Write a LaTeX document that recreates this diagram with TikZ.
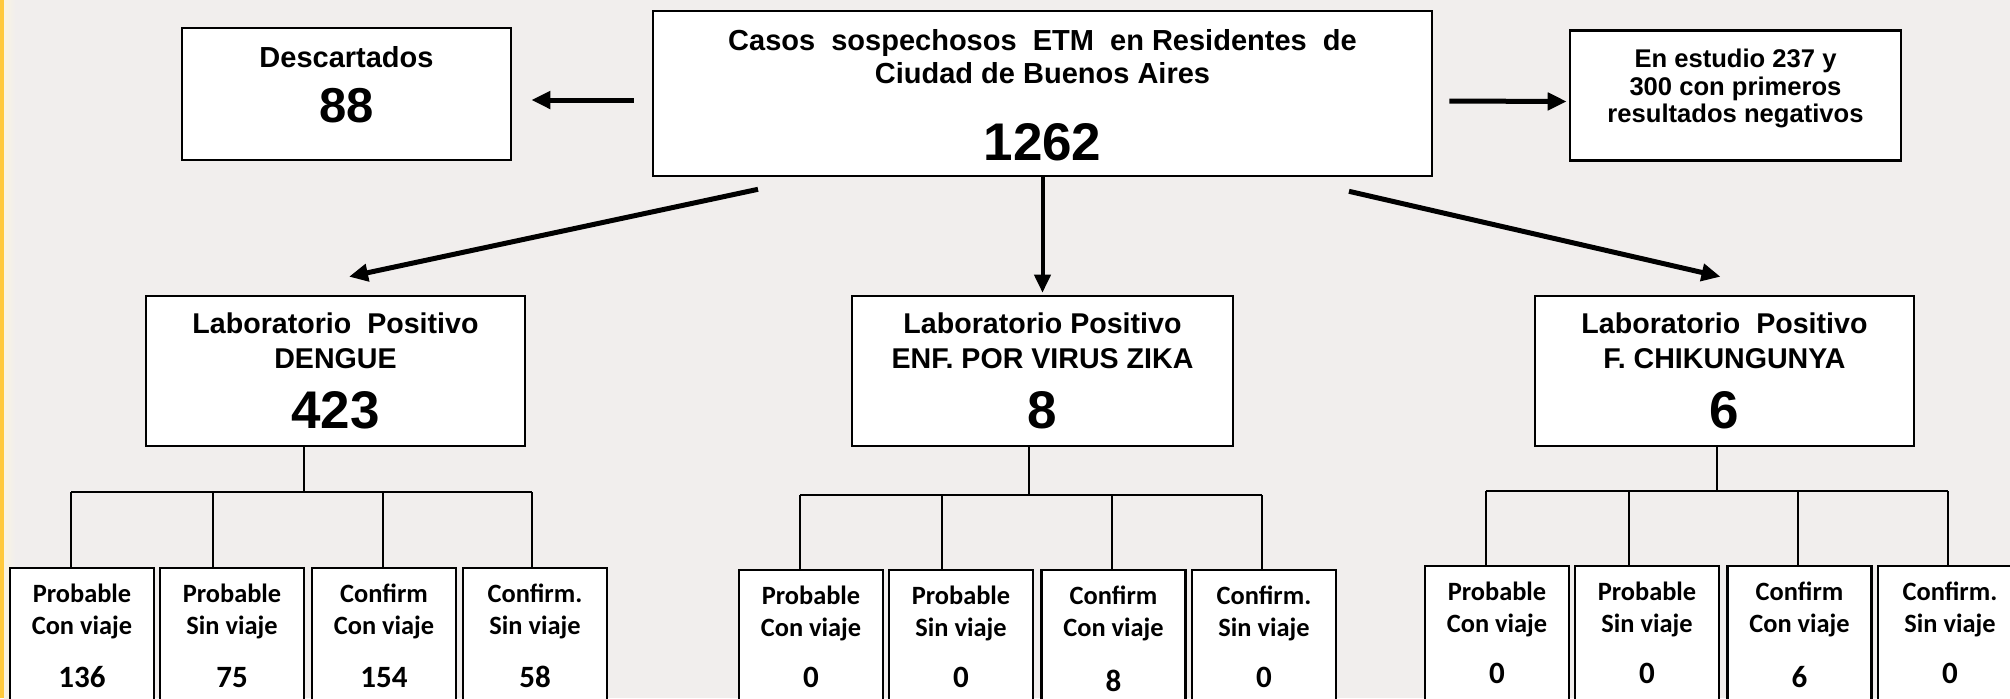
\documentclass[tikz,border=0pt]{standalone}
\usepackage{fontspec}
\setmainfont{Liberation Sans}
\newfontfamily\calib{Carlito}
\usetikzlibrary{arrows.meta,calc}
\definecolor{bg}{RGB}{241,238,237}
\definecolor{ystrip}{RGB}{255,201,60}
\definecolor{ylight}{RGB}{250,244,225}
\newcommand\mkcell[7]{%
  \node[sbx] (#1) at (#2,#3) {};
  \node[st] at ($(#1.north)+(0,35)$) {#4};
  \node[st] at ($(#1.north)+(0,67)$) {#5};
  \node[sn] at ($(#1.north)+(0,#7)$) {#6};
}
\begin{document}
\begin{tikzpicture}[x=0.5pt,y=-0.5pt,
  bx/.style={draw=black, line width=1.3pt, fill=white, inner sep=0pt},
  sbx/.style={draw=black, line width=1.2pt, fill=white, inner sep=0pt,
    minimum width=144*0.5pt, minimum height=180*0.5pt, anchor=north},
  arr/.style={line width=2.5pt, -{Triangle[length=9.5pt,width=8.5pt]}},
  arrv/.style={line width=2pt, -{Triangle[length=9pt,width=8pt]}},
  tree/.style={line width=1pt},
  hd/.style={font=\bfseries\fontsize{14.5}{17}\selectfont, inner sep=0pt, anchor=base},
  hd2/.style={font=\bfseries\fontsize{14.3}{17}\selectfont, inner sep=0pt, anchor=base},
  hdb/.style={font=\bfseries\fontsize{26.5}{30}\selectfont, inner sep=0pt, anchor=base},
  es/.style={font=\bfseries\fontsize{12.8}{15}\selectfont, inner sep=0pt, anchor=base},
  st/.style={font=\calib\bfseries\fontsize{13.2}{15}\selectfont, inner sep=0pt, anchor=base},
  sn/.style={font=\calib\bfseries\fontsize{15.5}{18}\selectfont, inner sep=0pt, anchor=base},
]
\useasboundingbox (0,0) rectangle (2010,698);
\clip (0,0) rectangle (2010,698);
\fill[bg] (0,0) rectangle (2010,698);
\fill[ystrip] (0,0) rectangle (4,698);
\shade[left color=ylight, right color=bg] (4,0) rectangle (15,698);

% top level
\node[bx, minimum width=779*0.5pt, minimum height=165*0.5pt] (main) at (1042.5,93.5) {};
\node[hd] at (1042.5,50) {Casos\ \ sospechosos\ \ ETM\ \ en Residentes\ \ de};
\node[hd] at (1042.5,83) {Ciudad de Buenos Aires};
\node[hdb] at (1042.5,160) {1262};

\node[bx, minimum width=329*0.5pt, minimum height=132*0.5pt] (desc) at (346.5,94) {};
\node[hd] at (346.5,67) {Descartados};
\node[font=\bfseries\fontsize{24.5}{28}\selectfont, inner sep=0pt, anchor=base] at (346.5,122) {88};

\node[bx, minimum width=331*0.5pt, minimum height=130*0.5pt] (est) at (1735.5,95.5) {};
\node[es] at (1735.5,67) {En estudio 237 y};
\node[es] at (1735.5,95) {300 con primeros};
\node[es] at (1735.5,122) {resultados negativos};

% second level
\node[bx, minimum width=379*0.5pt, minimum height=150*0.5pt] (den) at (335.5,371) {};
\node[hd2] at (335.5,333) {Laboratorio\ \ Positivo};
\node[hd2] at (335.5,368) {DENGUE};
\node[hdb] at (335.5,428) {423};

\node[bx, minimum width=381*0.5pt, minimum height=150*0.5pt] (zika) at (1042.5,371) {};
\node[hd2] at (1042.5,333) {Laboratorio Positivo};
\node[hd2] at (1042.5,368) {ENF. POR VIRUS ZIKA};
\node[hdb] at (1042.5,428) {8};

\node[bx, minimum width=379*0.5pt, minimum height=150*0.5pt] (chik) at (1724.5,371) {};
\node[hd2] at (1724.5,333) {Laboratorio\ \ Positivo};
\node[hd2] at (1724.5,368) {F. CHIKUNGUNYA};
\node[hdb] at (1724.5,428) {6};

% arrows
\draw[arr] ($(main.west)+(-18,6.5)$) -- ($(desc.east)+(19,6)$);
\draw[arr] ($(main.east)+(16,7.5)$) -- ($(est.west)+(-2,6)$);
\draw[arr] ($(main.south)+(-284.5,12)$) -- ($(den.north)+(13.5,-18)$);
\draw[arrv] (main.south) -- ($(zika.north)+(0,-2)$);
\draw[arr] ($(main.south)+(306.5,14)$) -- ($(chik.north)+(-4,-18)$);

% bottom cells
\mkcell{d1}{82}{567}{Probable}{Con viaje}{136}{120}
\mkcell{d2}{232}{567}{Probable}{Sin viaje}{75}{120}
\mkcell{d3}{384}{567}{Confirm}{Con viaje}{154}{120}
\mkcell{d4}{535}{567}{Confirm.}{Sin viaje}{58}{120}

\mkcell{z1}{811}{569}{Probable}{Con viaje}{0}{118}
\mkcell{z2}{961}{569}{Probable}{Sin viaje}{0}{118}
\mkcell{z3}{1113.5}{569}{Confirm}{Con viaje}{8}{122}
\mkcell{z4}{1264}{569}{Confirm.}{Sin viaje}{0}{118}

\mkcell{c1}{1497}{565}{Probable}{Con viaje}{0}{118}
\mkcell{c2}{1647}{565}{Probable}{Sin viaje}{0}{118}
\mkcell{c3}{1799.5}{565}{Confirm}{Con viaje}{6}{122}
\mkcell{c4}{1950}{565}{Confirm.}{Sin viaje}{0}{118}

% trees
\coordinate (ds) at (304,492);
\coordinate (dA) at (71,492); \coordinate (dB) at (213,492);
\coordinate (dC) at (383,492); \coordinate (dD) at (532,492);
\draw[tree] (ds |- den.south) -- (ds);
\draw[tree] (dA) -- (dD);
\draw[tree] (dA) -- (dA |- d1.north);
\draw[tree] (dB) -- (dB |- d2.north);
\draw[tree] (dC) -- (dC |- d3.north);
\draw[tree] (dD) -- (dD |- d4.north);

\coordinate (zs) at (1029,495);
\coordinate (zA) at (800,495); \coordinate (zB) at (942,495);
\coordinate (zC) at (1112,495); \coordinate (zD) at (1262,495);
\draw[tree] (zs |- zika.south) -- (zs);
\draw[tree] (zA) -- (zD);
\draw[tree] (zA) -- (zA |- z1.north);
\draw[tree] (zB) -- (zB |- z2.north);
\draw[tree] (zC) -- (zC |- z3.north);
\draw[tree] (zD) -- (zD |- z4.north);

\coordinate (cs) at (1717,491);
\coordinate (cA) at (1486,491); \coordinate (cB) at (1629,491);
\coordinate (cC) at (1798,491); \coordinate (cD) at (1948,491);
\draw[tree] (cs |- chik.south) -- (cs);
\draw[tree] (cA) -- (cD);
\draw[tree] (cA) -- (cA |- c1.north);
\draw[tree] (cB) -- (cB |- c2.north);
\draw[tree] (cC) -- (cC |- c3.north);
\draw[tree] (cD) -- (cD |- c4.north);
\end{tikzpicture}
\end{document}
